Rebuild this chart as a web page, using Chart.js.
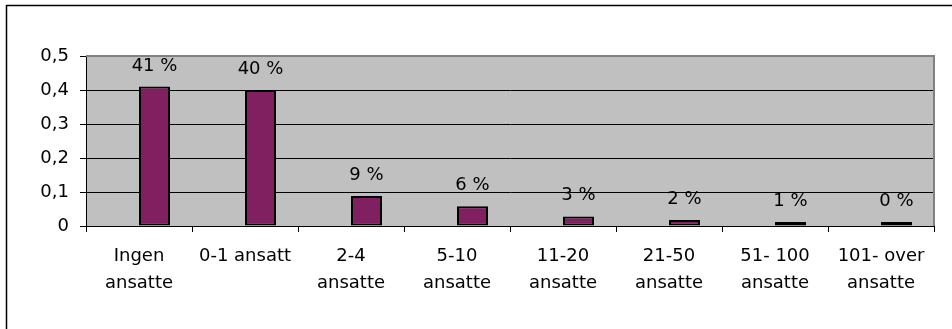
<!DOCTYPE html>
<html lang="no">
<head>
<meta charset="utf-8">
<title>Antall ansatte</title>
<script src="https://cdn.jsdelivr.net/npm/chart.js@4/dist/chart.umd.min.js"></script>
<style>
  html, body { margin: 0; padding: 0; background: #fff; }
  #wrap { position: relative; width: 952px; height: 329px; }
</style>
</head>
<body>
<div id="wrap"><canvas id="chart" width="952" height="329"></canvas></div>
<script>
// ── Data ────────────────────────────────────────────────────────────────────
const kategorier = [
  ['Ingen', 'ansatte'],
  ['0-1 ansatt'],
  ['2-4', 'ansatte'],
  ['5-10', 'ansatte'],
  ['11-20', 'ansatte'],
  ['21-50', 'ansatte'],
  ['51- 100', 'ansatte'],
  ['101- over', 'ansatte'],
];
const andel     = [0.41, 0.40, 0.088, 0.058, 0.028, 0.018, 0.008, 0.004];
const tomSerie  = [null, null, null, null, null, null, null, null];
const yTicks    = [0, 0.1, 0.2, 0.3, 0.4, 0.5];

// ── Style ───────────────────────────────────────────────────────────────────
const FONT      = '"DejaVu Sans", Arial, sans-serif';
const FONT_SIZE = 18;
const PLOT_BG   = '#c0c0c0';
const PLOT_EDGE = '#808080';
const BAR_FILL  = '#802060';

function fmtTick(v) {
  return v === 0 ? '0' : v.toFixed(1).replace('.', ',');
}

function fmtPct(v) {
  return `${Math.round(v * 100)} %`;
}

// ── Plugins ─────────────────────────────────────────────────────────────────
const frame = {
  id: 'frame',
  beforeDraw(chart) {
    const { ctx, chartArea: a } = chart;
    ctx.save();
    ctx.fillStyle = '#fff';
    ctx.fillRect(0, 0, chart.width, chart.height);
    // outer chart border (only top and left edges fall inside the canvas)
    ctx.strokeStyle = '#000';
    ctx.lineWidth = 1.5;
    ctx.beginPath();
    ctx.moveTo(6.5, chart.height);
    ctx.lineTo(6.5, 5.5);
    ctx.lineTo(chart.width, 5.5);
    ctx.stroke();
    ctx.fillStyle = PLOT_BG;
    ctx.fillRect(a.left, a.top, a.right - a.left, a.bottom - a.top);
    ctx.restore();
  },
  afterDraw(chart) {
    const { ctx, chartArea: a } = chart;
    ctx.save();
    ctx.strokeStyle = PLOT_EDGE;
    ctx.lineWidth = 2;
    ctx.beginPath();
    ctx.moveTo(a.left, a.top);
    ctx.lineTo(a.right, a.top);
    ctx.lineTo(a.right, a.bottom);
    ctx.stroke();
    ctx.restore();
  },
};

const valueLabels = {
  id: 'valueLabels',
  afterDatasetsDraw(chart) {
    const { ctx } = chart;
    const meta = chart.getDatasetMeta(1);
    ctx.save();
    ctx.font = `${FONT_SIZE}px ${FONT}`;
    ctx.fillStyle = '#000';
    ctx.textAlign = 'center';
    ctx.textBaseline = 'alphabetic';
    meta.data.forEach((bar, i) => {
      ctx.fillText(fmtPct(andel[i]), bar.x, bar.y - 16);
    });
    ctx.restore();
  },
};

// ── Chart ───────────────────────────────────────────────────────────────────
new Chart(document.getElementById('chart'), {
  type: 'bar',
  data: {
    labels: kategorier,
    datasets: [
      { label: 'Serie1', data: tomSerie },
      {
        label          : 'Serie2',
        data           : andel,
        backgroundColor: BAR_FILL,
        borderColor    : '#000',
        borderWidth    : 2,
        borderSkipped  : false,
        minBarLength   : 4,
      },
    ],
  },
  options: {
    responsive : false,
    animation  : false,
    devicePixelRatio: 1,
    categoryPercentage: 0.585,
    barPercentage     : 1.0,
    layout: { padding: { top: 56, right: 18, left: 0, bottom: 0 } },
    plugins: {
      legend : { display: false },
      tooltip: { enabled: false },
    },
    scales: {
      x: {
        afterFit(scale) { scale.height = 103; },
        border: { color: '#000', width: 1 },
        grid: {
          offset: true,
          drawOnChartArea: false,
          tickLength: 6,
          tickColor: '#000',
          color: '#000',
        },
        ticks: {
          color: '#000',
          padding: 11,
          maxRotation: 0,
          autoSkip: false,
          font: { family: FONT, size: FONT_SIZE, lineHeight: '27px' },
        },
      },
      y: {
        min: 0,
        max: 0.5,
        afterFit(scale) { scale.width = 86; },
        afterBuildTicks(scale) { scale.ticks = yTicks.map(v => ({ value: v })); },
        border: { color: '#000', width: 1 },
        grid: {
          color: ctx => (ctx.tick && ctx.tick.value === 0.5 ? 'rgba(0,0,0,0)' : '#000'),
          tickColor: '#000',
          tickLength: 6,
        },
        ticks: {
          color: '#000',
          padding: 11,
          font: { family: FONT, size: FONT_SIZE },
          callback: v => fmtTick(v),
        },
      },
    },
  },
  plugins: [frame, valueLabels],
});
</script>
</body>
</html>
